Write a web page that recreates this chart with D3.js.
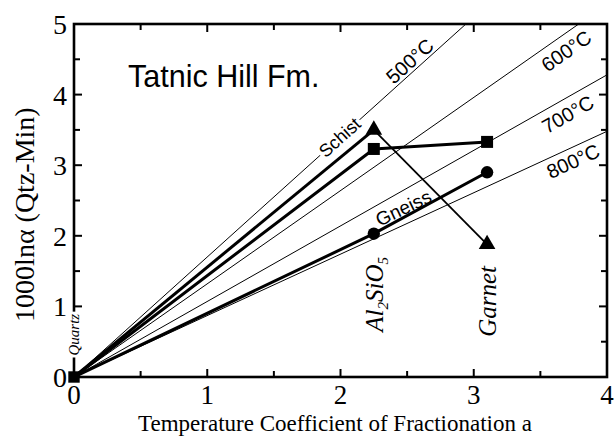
<!DOCTYPE html>
<html><head><meta charset="utf-8">
<script src="https://cdn.jsdelivr.net/npm/d3@7/dist/d3.min.js"></script>
<style>
html,body{margin:0;padding:0;background:#fff;}
svg{display:block;}
.serif{font-family:"Liberation Serif","Times New Roman",serif;}
.sans{font-family:"Liberation Sans",Arial,sans-serif;}
</style></head>
<body>
<svg id="chart" width="614" height="438"></svg>
<script>
// ---- data ----
const xTickValues = [0, 1, 2, 3, 4];
const yTickValues = [0, 1, 2, 3, 4, 5];
const isoLabels = ["500°C", "600°C", "700°C", "800°C"];
const isoSlopes = [1.7, 1.32, 1.07, 0.87];
const rockLabels = ["Schist", "Gneiss"];
const mineralLabels = ["Quartz", "Al2SiO5", "Garnet"];
const mineralA = [0, 2.25, 3.1];
const triX = [0, 2.25];
const triY = [0, 3.5];
const triLinkX = [2.25, 3.1];
const triLinkY = [3.5, 1.88];
const sqX = [0, 2.25, 3.1];
const sqY = [0, 3.23, 3.33];
const circX = [0, 2.25, 3.1];
const circY = [0, 2.03, 2.9];
const xTitle = "Temperature Coefficient of Fractionation a";
const yTitle = "1000lnα (Qtz-Min)";
const panelTitle = "Tatnic Hill Fm.";

// ---- layout ----
const svg = d3.select("#chart");
const x = d3.scaleLinear().domain([0, 4]).range([74, 607]);
const y = d3.scaleLinear().domain([0, 5]).range([377, 24]);
const pxRatio = (y(0) - y(1)) / (x(1) - x(0));

svg.append("defs").append("clipPath").attr("id", "clip")
  .append("rect").attr("x", x(0)).attr("y", y(5))
  .attr("width", x(4) - x(0)).attr("height", y(0) - y(5));

const plot = svg.append("g").attr("clip-path", "url(#clip)");

// isotherms
isoSlopes.forEach(s => {
  plot.append("line")
    .attr("x1", x(0)).attr("y1", y(0))
    .attr("x2", x(4)).attr("y2", y(4 * s))
    .attr("stroke", "#000").attr("stroke-width", 1);
});

const line = d3.line().x(d => x(d[0])).y(d => y(d[1]));
function path(xa, ya, w) {
  plot.append("path").datum(xa.map((v, i) => [v, ya[i]]))
    .attr("d", line).attr("fill", "none").attr("stroke", "#000")
    .attr("stroke-width", w).attr("stroke-linejoin", "round");
}
path(triX, triY, 3);
path(sqX, sqY, 3);
path(circX, circY, 3);
path(triLinkX, triLinkY, 1.8);

function angleOf(s) { return -Math.atan(s * pxRatio) * 180 / Math.PI; }
function rotText(g, txt, cx, cy, ang, size, cls, knock) {
  const gg = g.append("g").attr("transform", `translate(${cx},${cy}) rotate(${ang})`);
  const bg = gg.append("rect").attr("fill", "#fff");
  const t = gg.append("text").attr("class", cls).attr("text-anchor", "middle")
    .attr("dominant-baseline", "central").attr("font-size", size).text(txt);
  if (knock) {
    const b = t.node().getBBox();
    bg.attr("x", b.x - 2).attr("y", b.y + 3).attr("width", b.width + 4).attr("height", b.height - 6);
  } else bg.remove();
  return gg;
}
// rock labels (Schist on the 500 line, Gneiss above the circle line)
rotText(svg, rockLabels[0], x(1.995), y(1.995 * isoSlopes[0]), angleOf(isoSlopes[0]), 18, "sans", true);
rotText(svg, rockLabels[1], x(2.48) - 1, y(2.03 + 0.23 * (2.9 - 2.03) / 0.85) - 9,
  angleOf((2.9 - 2.03) / (3.1 - 2.25)) + 3, 19, "sans", false);

// isotherm labels (perpendicular offset from their lines: + above, - below)
const isoLabelA = [2.57, 3.63, 3.65, 3.705];
const isoLabelOff = [10, -15, -15, -13];
isoSlopes.forEach((s, i) => {
  const a = isoLabelA[i];
  const ang = angleOf(s);
  const rad = ang * Math.PI / 180;
  const off = isoLabelOff[i];
  const cx = x(a) + off * Math.sin(rad);
  const cy = y(a * s) - off * Math.cos(rad);
  rotText(svg, isoLabels[i], cx, cy, ang, 20, "sans", false);
});

// markers
const sym = (type, size) => d3.symbol().type(type).size(size)();
svg.append("path").attr("d", sym(d3.symbolSquare, 130))
  .attr("transform", `translate(${x(0)},${y(0)})`);
[1, 2].forEach(i => {
  svg.append("path").attr("d", sym(d3.symbolSquare, 144))
    .attr("transform", `translate(${x(sqX[i])},${y(sqY[i])})`);
  svg.append("circle").attr("cx", x(circX[i])).attr("cy", y(circY[i])).attr("r", 6.2);
});
svg.append("path").attr("d", sym(d3.symbolTriangle, 120))
  .attr("transform", `translate(${x(triX[1])},${y(triY[1])})`);
svg.append("path").attr("d", sym(d3.symbolTriangle, 120))
  .attr("transform", `translate(${x(triLinkX[1])},${y(triLinkY[1])})`);

// frame and ticks (inward, all four sides)
svg.append("rect").attr("x", x(0)).attr("y", y(5))
  .attr("width", x(4) - x(0)).attr("height", y(0) - y(5))
  .attr("fill", "none").attr("stroke", "#000").attr("stroke-width", 2.6);

const tk = svg.append("g").attr("stroke", "#000").attr("stroke-width", 2);
d3.range(0, 4.01, 0.5).forEach(v => {
  const L = Number.isInteger(v) ? 8 : 6;
  tk.append("line").attr("x1", x(v)).attr("x2", x(v)).attr("y1", y(0)).attr("y2", y(0) - L);
  tk.append("line").attr("x1", x(v)).attr("x2", x(v)).attr("y1", y(5)).attr("y2", y(5) + L);
});
d3.range(0, 5.01, 0.5).forEach(v => {
  const L = Number.isInteger(v) ? 8 : 6;
  tk.append("line").attr("y1", y(v)).attr("y2", y(v)).attr("x1", x(0)).attr("x2", x(0) + L);
  tk.append("line").attr("y1", y(v)).attr("y2", y(v)).attr("x1", x(4)).attr("x2", x(4) - L);
});

// tick labels
svg.append("g").selectAll("text").data(xTickValues).join("text")
  .attr("class", "serif").attr("font-size", 27).attr("text-anchor", "middle")
  .attr("x", d => x(d)).attr("y", 404).text(d => d);
svg.append("g").selectAll("text").data(yTickValues).join("text")
  .attr("class", "serif").attr("font-size", 28).attr("text-anchor", "end")
  .attr("x", 67).attr("y", d => y(d) + 10).text(d => d);

// Quartz label on the y axis (knocks out axis line)
{
  const gq = svg.append("g").attr("transform", `translate(${x(mineralA[0]) + 5},${y(0.6)}) rotate(-90)`);
  const bg = gq.append("rect").attr("fill", "#fff");
  const t = gq.append("text").attr("class", "serif").attr("font-style", "italic")
    .attr("font-size", 15).attr("text-anchor", "middle").text(mineralLabels[0]);
  const b = t.node().getBBox();
  bg.attr("x", b.x - 2).attr("y", b.y).attr("width", b.width + 4).attr("height", b.height);
}
// Al2SiO5
{
  const ga = svg.append("g").attr("transform", `translate(${x(mineralA[1]) + 9},${y(1.17)}) rotate(-90)`);
  const t = ga.append("text").attr("class", "serif").attr("font-style", "italic")
    .attr("font-size", 25).attr("text-anchor", "middle");
  t.append("tspan").text("Al");
  t.append("tspan").attr("font-size", 15).attr("dy", 5).text("2");
  t.append("tspan").attr("dy", -5).text("SiO");
  t.append("tspan").attr("font-size", 15).attr("dy", 5).text("5");
}
// Garnet
svg.append("text").attr("class", "serif").attr("font-style", "italic")
  .attr("font-size", 25).attr("text-anchor", "middle")
  .attr("transform", `translate(${x(mineralA[2]) + 9},${y(1.07)}) rotate(-90)`)
  .text(mineralLabels[2]);

// panel title
svg.append("text").attr("class", "sans").attr("font-size", 30.5)
  .attr("x", 128).attr("y", 87).text(panelTitle);

// axis titles
svg.append("text").attr("class", "serif").attr("font-size", 23)
  .attr("text-anchor", "middle").attr("x", 335).attr("y", 431).text(xTitle);
svg.append("text").attr("class", "serif").attr("font-size", 28)
  .attr("text-anchor", "middle")
  .attr("transform", `translate(34,${y(2.3)}) rotate(-90)`).text(yTitle);
</script>
</body></html>
